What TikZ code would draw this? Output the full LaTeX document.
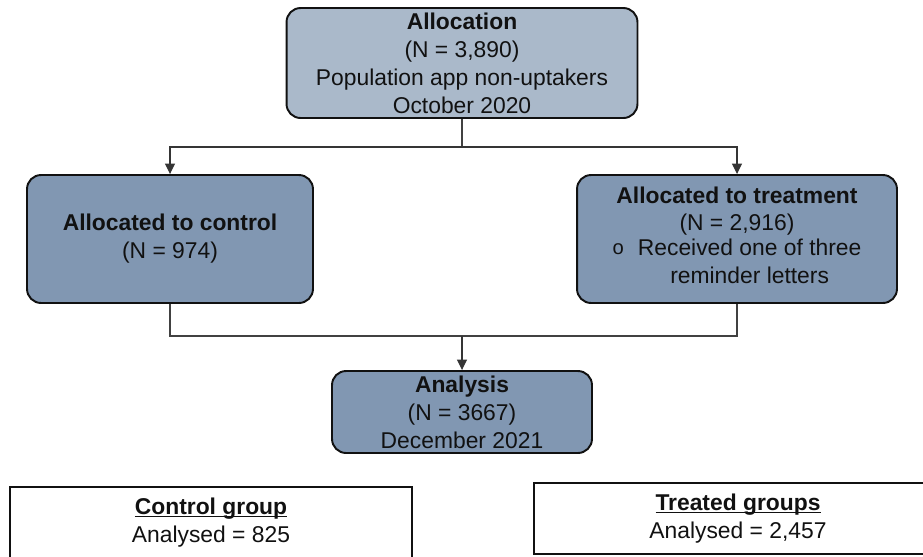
\documentclass[tikz,border=0pt]{standalone}
\usepackage{fontspec}
\setmainfont{Liberation Sans}
\usetikzlibrary{arrows.meta,positioning}
\definecolor{cTop}{HTML}{AAB9CA}
\definecolor{cArm}{HTML}{8197B2}
\definecolor{cInk}{HTML}{111111}
\newcommand{\ulin}[1]{\setbox0\hbox{#1}\rlap{\rule[-1.7pt]{\wd0}{.9pt}}\box0}

\begin{document}
\begin{tikzpicture}[
  x=0.02cm, y=-0.02cm,
  font=\fontsize{13}{15.9}\selectfont,
  blk/.style={draw=cInk, fill=#1, rounded corners=8pt, line width=1.1pt,
              align=center, text=cInk, inner sep=0pt},
  res/.style={draw=cInk, fill=white, line width=1.2pt, align=center,
              text=cInk, inner sep=0pt},
  link/.style={line width=.7pt, draw=cInk!80},
  flow/.style={-{Triangle[length=2.1mm,width=2mm]}, line width=.7pt, draw=cInk!85},
]
\clip (0,0) rectangle (923,556);

% ---------------- allocation ----------------
\node[blk=cTop, minimum width=7.02cm, minimum height=2.2cm] (alloc) at (462,63)
  {\textbf{Allocation}\\ (N = 3,890)\\ Population app non-uptakers\\ October 2020};

% ---------------- arms ----------------
\node[blk=cArm, minimum width=5.72cm, minimum height=2.56cm] (ctrl) at (170,239)
  {\textbf{Allocated to control}\\ (N = 974)};
\node[blk=cArm, minimum width=6.4cm, minimum height=2.56cm] (treat) at (737,239)
  {\textbf{Allocated to treatment}\\ (N = 2,916)\\[-1pt]
   \begin{tabular}{@{}l@{\hspace{8pt}}c@{}}
     {\fontsize{11.5}{12}\selectfont\raisebox{.5pt}{o}} & Received one of three\\
     & reminder letters
   \end{tabular}};

\coordinate (split) at (462,147);
\draw[link] (alloc) -- (split);
\draw[flow] (split) -| (ctrl.north);
\draw[flow] (split) -| (treat.north);

% ---------------- analysis ----------------
\node[blk=cArm, minimum width=5.2cm, minimum height=1.64cm] (anal) at (462,412)
  {\textbf{Analysis}\\ (N = 3667)\\ December 2021};

\coordinate (merge) at (462,336);
\draw[link] (ctrl.south) |- (merge);
\draw[link] (treat.south) |- (merge);
\draw[flow] (merge) -- (anal.north);

% ---------------- results ----------------
\node[res, minimum width=8.04cm, minimum height=1.42cm] (resC) at (211,522.5)
  {\textbf{\ulin{Control group}}\\ Analysed = 825};
\node[res, minimum width=8.16cm, minimum height=1.42cm] (resT) at (738,518.5)
  {\textbf{\ulin{Treated groups}}\\ Analysed = 2,457};

\end{tikzpicture}
\end{document}
